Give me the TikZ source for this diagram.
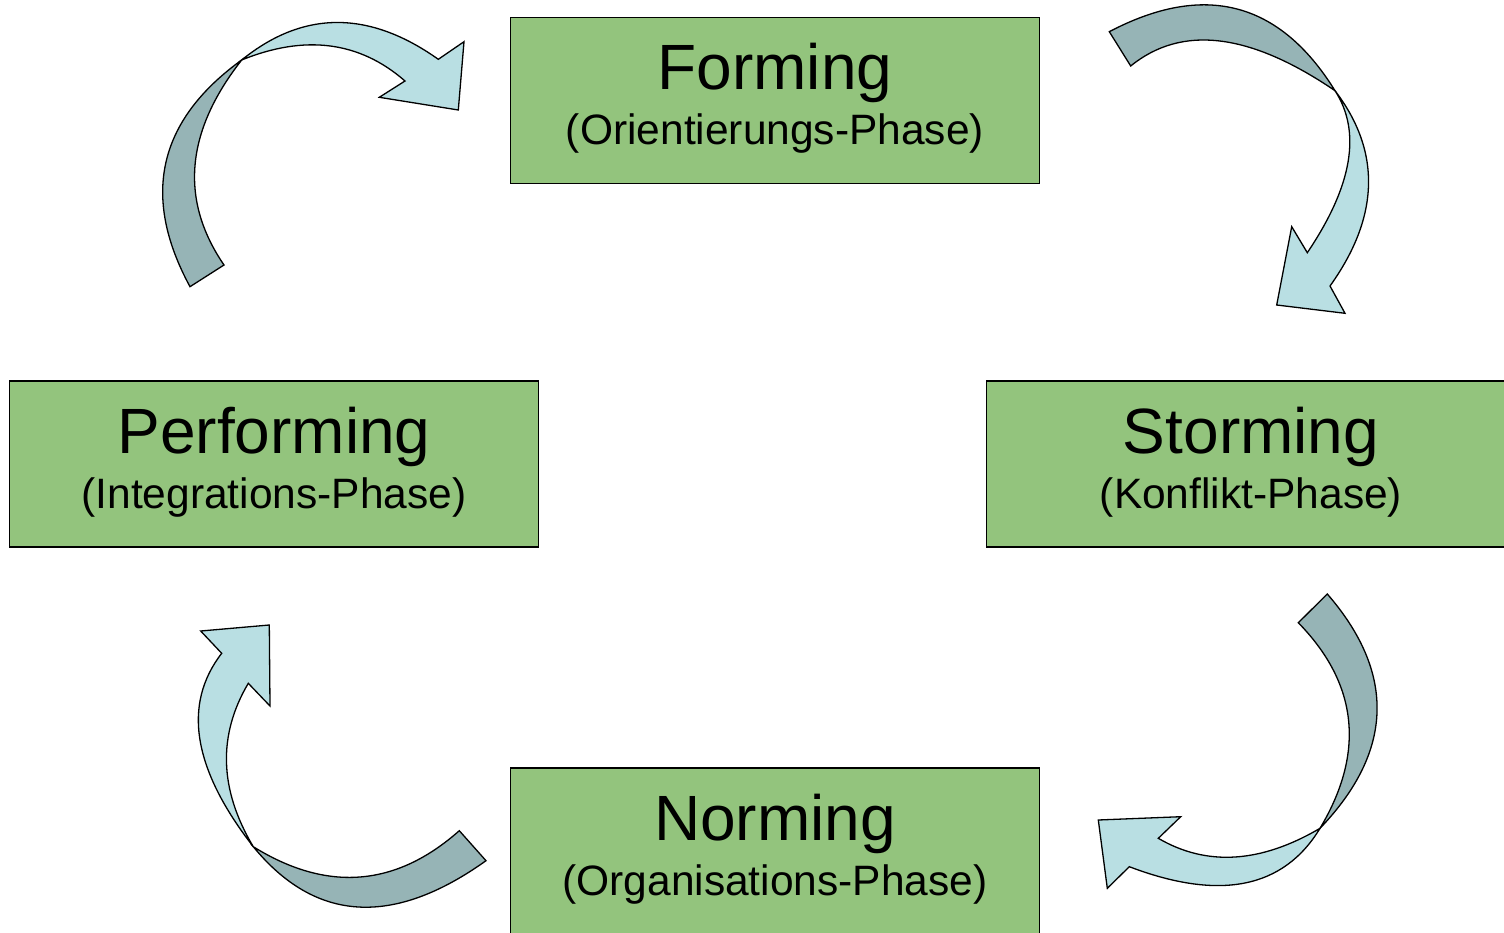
\documentclass[tikz,border=0pt]{standalone}
\usepackage{fontspec}
\setmainfont{Liberation Sans}
\definecolor{phasegreen}{RGB}{147,196,125}
\definecolor{arrowfront}{RGB}{185,223,227}
\definecolor{arrowback}{RGB}{150,180,182}
\begin{document}
\begin{tikzpicture}[x=1pt,y=-1pt,
  phase/.style={draw=black, line width=1.8pt, fill=phasegreen,
    minimum width=529pt, minimum height=166pt, inner sep=0pt},
  title/.style={anchor=base, inner sep=0pt, font=\fontsize{64}{70}\selectfont},
  subtitle/.style={anchor=base, inner sep=0pt, font=\fontsize{42.5}{48}\selectfont},
  backpart/.style={draw=black, line width=1.3pt, fill=arrowback, line join=miter},
  frontpart/.style={draw=black, line width=1.3pt, fill=arrowfront, line join=miter}]
\useasboundingbox (0,0) rectangle (1504,933);
\clip (0,0) rectangle (1504,933);

% phase boxes
\node[phase] (forming)    at (775,100.5) {};
\node[phase] (storming)   at (1251,464) {};
\node[phase] (norming)    at (775,851) {};
\node[phase] (performing) at (274,464) {};

% box labels
\node[title]    (formingT)    at ([yshift=10.5pt]forming.center)    {Forming};
\node[subtitle] (formingS)    at ([yshift=-44pt]forming.center)     {(Orientierungs-Phase)};
\node[title]    (stormingT)   at ([yshift=10.5pt]storming.center)   {Storming};
\node[subtitle] (stormingS)   at ([yshift=-44pt]storming.center)    {(Konflikt-Phase)};
\node[title]    (normingT)    at ([yshift=10.5pt]norming.center)    {Norming};
\node[subtitle] (normingS)    at ([yshift=-44pt]norming.center)     {(Organisations-Phase)};
\node[title]    (performingT) at ([yshift=10.5pt]performing.center) {Performing};
\node[subtitle] (performingS) at ([yshift=-44pt]performing.center)  {(Integrations-Phase)};

% Each curved arrow: a darker back face from the tail to the twist,
% then a lighter front face from the twist to the head.

% Performing -> Forming
\filldraw[backpart] (190,286.7) -- (224,265)
  .. controls (179.5,200) and (185.4,131.7) .. (241.7,60)
  .. controls (158.0,120.5) and (140.8,196.0) .. (190,286.7) -- cycle;
\filldraw[frontpart] (241.7,60)
  .. controls (303.2,10.2) and (368.8,10.0) .. (438.3,59.3)
  -- (464,41.7) -- (458.3,110) -- (379.3,97.3) -- (405,81)
  .. controls (359.5,41.3) and (305.0,34.3) .. (241.7,60) -- cycle;

% Forming -> Storming
\filldraw[backpart] (1109.3,31.7) -- (1130.7,66)
  .. controls (1181.7,24.5) and (1249.8,32.7) .. (1335,90.7)
  .. controls (1279.6,1.4) and (1204.4,-18.2) .. (1109.3,31.7) -- cycle;
\filldraw[frontpart] (1335,90.7)
  .. controls (1381.3,151.4) and (1379.7,216.5) .. (1330,286)
  -- (1345,313.3) -- (1276.7,305) -- (1291.7,226.7) -- (1307.3,252.7)
  .. controls (1352.4,185.8) and (1361.6,131.8) .. (1335,90.7) -- cycle;

% Storming -> Norming
\filldraw[backpart] (1327.3,594) -- (1298.3,622.7)
  .. controls (1358.0,683.9) and (1365.3,752.4) .. (1320,828.3)
  .. controls (1393.6,751.4) and (1396.0,673.3) .. (1327.3,594) -- cycle;
\filldraw[frontpart] (1320,828.3)
  .. controls (1283.6,888.4) and (1220.0,901.2) .. (1129.3,866.7)
  -- (1107.3,888.3) -- (1098.3,820) -- (1180.7,816.7) -- (1158.3,838.3)
  .. controls (1206.7,866.6) and (1260.6,863.2) .. (1320,828.3) -- cycle;

% Norming -> Performing
\filldraw[backpart] (486,860.7) -- (459.3,830.7)
  .. controls (395.6,887.1) and (326.9,892.4) .. (253.3,846.7)
  .. controls (315.4,922.4) and (392.9,927.1) .. (486,860.7) -- cycle;
\filldraw[frontpart] (253.3,846.7)
  .. controls (192.8,768.9) and (182.2,704.4) .. (221.7,653.3)
  -- (200.7,631) -- (269.3,625) -- (270,706) -- (248.3,683.3)
  .. controls (217.6,735.1) and (219.2,789.6) .. (253.3,846.7) -- cycle;
\end{tikzpicture}
\end{document}
